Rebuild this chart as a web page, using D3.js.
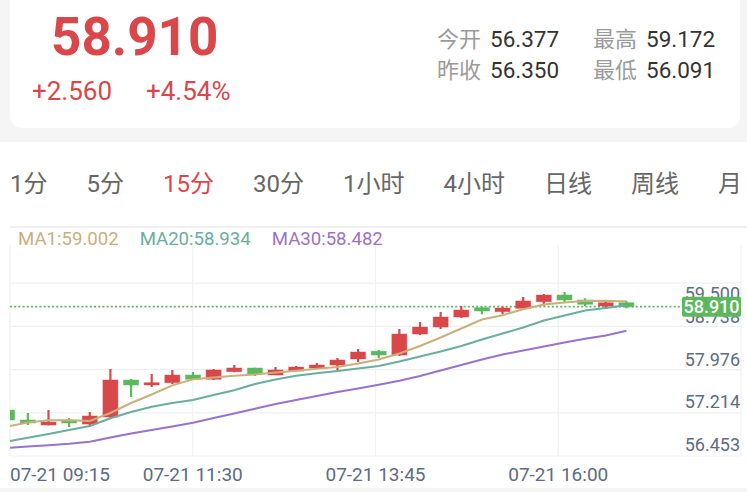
<!doctype html>
<html>
<head>
<meta charset="utf-8">
<script src="https://cdnjs.cloudflare.com/ajax/libs/d3/7.8.5/d3.min.js"></script>
<style>
  body { margin: 0; background: #f5f5f5; }
  svg { display: block; font-family: Roboto, "Noto Sans CJK SC", sans-serif; }
</style>
</head>
<body>
<svg width="747" height="492"></svg>
<script>
// quote header
const lastPrice = "58.910";
const changeTexts = ["+2.560", "+4.54%"];
const statLabels = [["今开", "最高"], ["昨收", "最低"]];
const statValues = [["56.377", "59.172"], ["56.350", "56.091"]];
const tabs = ["1分", "5分", "15分", "30分", "1小时", "4小时", "日线", "周线", "月线"];

// 15 min candles
const times = ["09:15","09:30","09:45","10:00","10:15","10:30","10:45","11:00","11:15","11:30","11:45",
  "12:00","12:15","12:30","12:45","13:00","13:15","13:30","13:45","14:00","14:15","14:30","14:45",
  "15:00","15:15","15:30","15:45","16:00","16:15","16:30","16:45"];
const opens = [57.065, 56.887, 56.798, 56.887, 56.815, 56.940, 57.601, 57.512, 57.553, 57.690, 57.614,
  57.749, 57.815, 57.690, 57.762, 57.815, 57.869, 57.976, 58.115, 58.047, 58.422, 58.547, 58.726,
  58.892, 58.821, 58.881, 58.999, 59.119, 59.030, 58.922, 58.981];
const highs = [57.080, 57.012, 57.065, 56.922, 57.030, 57.798, 57.619, 57.708, 57.780, 57.744, 57.798,
  57.869, 57.820, 57.833, 57.851, 57.905, 57.994, 58.155, 58.137, 58.512, 58.637, 58.815, 58.922,
  58.910, 58.910, 59.083, 59.137, 59.172, 59.060, 59.017, 59.017];
const lows = [56.870, 56.798, 56.790, 56.762, 56.780, 56.922, 57.297, 57.476, 57.530, 57.601, 57.601,
  57.740, 57.672, 57.690, 57.755, 57.798, 57.780, 57.922, 57.994, 58.030, 58.405, 58.512, 58.708,
  58.774, 58.774, 58.881, 58.928, 58.981, 58.922, 58.881, 58.881];
const closes = [56.887, 56.833, 56.851, 56.833, 56.958, 57.601, 57.512, 57.553, 57.690, 57.614, 57.780,
  57.815, 57.708, 57.780, 57.833, 57.869, 57.958, 58.101, 58.047, 58.422, 58.547, 58.726, 58.851,
  58.833, 58.887, 59.012, 59.119, 59.030, 58.953, 58.981, 58.910];

const ma1 = [56.771, 56.842, 56.881, 56.881, 56.869, 57.012, 57.190, 57.342, 57.506, 57.614, 57.646,
  57.678, 57.699, 57.735, 57.767, 57.801, 57.833, 57.896, 57.967, 58.074, 58.208, 58.360, 58.521,
  58.681, 58.758, 58.864, 58.948, 58.985, 59.012, 59.017, 59.002];
const ma20 = [56.503, 56.571, 56.637, 56.708, 56.780, 56.917, 57.030, 57.122, 57.190, 57.244, 57.333,
  57.417, 57.530, 57.610, 57.676, 57.721, 57.762, 57.806, 57.851, 57.931, 58.021, 58.110, 58.208,
  58.324, 58.431, 58.539, 58.664, 58.753, 58.842, 58.887, 58.934];
const ma30 = [56.390, 56.414, 56.435, 56.462, 56.499, 56.574, 56.646, 56.708, 56.771, 56.839, 56.922,
  57.003, 57.087, 57.172, 57.244, 57.315, 57.387, 57.449, 57.517, 57.589, 57.672, 57.771, 57.869,
  57.967, 58.056, 58.128, 58.199, 58.271, 58.337, 58.396, 58.482];

const maNames = ["MA1", "MA20", "MA30"];
const maColors = ["#c8b07a", "#69ae9e", "#9a72cc"];
const yTicks = ["59.500", "58.738", "57.976", "57.214", "56.453"];
const timeLabels = ["07-21 09:15", "07-21 11:30", "07-21 13:45", "07-21 16:00"];

const red = "#d9474b", green = "#5cb85c", axisColor = "#5d6b86";

const svg = d3.select("svg");

// backgrounds
svg.append("rect").attr("width", 747).attr("height", 492).attr("fill", "#f5f5f5");
svg.append("rect").attr("x", 10).attr("y", -20).attr("width", 730).attr("height", 148)
  .attr("rx", 12).attr("fill", "#fff");
svg.append("rect").attr("x", 0).attr("y", 142).attr("width", 747).attr("height", 346).attr("fill", "#fff");

// header
svg.append("text").attr("x", 51).attr("y", 55).attr("font-size", 53).attr("font-weight", 700)
  .attr("fill", red).text(lastPrice);
svg.append("text").attr("x", 32).attr("y", 100).attr("font-size", 26).attr("fill", red).text(changeTexts[0]);
svg.append("text").attr("x", 146).attr("y", 100).attr("font-size", 26).attr("fill", red).text(changeTexts[1]);

statLabels.forEach((row, r) => {
  row.forEach((lab, c) => {
    const bx = c == 0 ? 437 : 593, by = r == 0 ? 47 : 78;
    svg.append("text").attr("x", bx).attr("y", by).attr("font-size", 22).attr("fill", "#9a9a9a").text(lab);
    svg.append("text").attr("x", bx + 53).attr("y", by).attr("font-size", 22.5).attr("fill", "#333").text(statValues[r][c]);
  });
});

// period tabs (the strip scrolls, last one is cut at the edge)
svg.append("clipPath").attr("id", "tabclip").append("rect")
  .attr("x", 0).attr("y", 150).attr("width", 742).attr("height", 60);
const tabG = svg.append("g").attr("clip-path", "url(#tabclip)");
let tx = 10;
tabs.forEach((t, i) => {
  const el = tabG.append("text").attr("x", tx).attr("y", 192).attr("font-size", 24)
    .attr("fill", i == 2 ? "#e0454b" : "#666").text(t);
  tx += el.node().getComputedTextLength() + 39;
});

// scales
const x = d3.scalePoint().domain(times).range([7.2, 626.4]);
const y = d3.scaleLinear().domain([56.244, 60.351]).range([456, 226]);
const gx = d3.scaleLinear().domain([0, 4]).range([10, 741]);
const gy = d3.scaleLinear().domain([0, 5]).range([240, 456]);

// grid
svg.append("line").attr("x1", 10).attr("x2", 747).attr("y1", 227).attr("y2", 227)
  .attr("stroke", "#f0f0f0").attr("stroke-width", 2);
svg.selectAll(".hgrid").data(d3.range(1, 6)).enter().append("line")
  .attr("x1", gx(0)).attr("x2", gx(4)).attr("y1", d => gy(d)).attr("y2", d => gy(d))
  .attr("stroke", "#f1f1f1").attr("stroke-width", 1.2);
svg.selectAll(".vgrid").data(d3.range(0, 5)).enter().append("line")
  .attr("x1", d => gx(d)).attr("x2", d => gx(d)).attr("y1", 245).attr("y2", gy(5))
  .attr("stroke", "#f1f1f1").attr("stroke-width", 1.2);

// legend
let lx = 18;
maNames.forEach((n, i) => {
  const v = [ma1, ma20, ma30][i];
  const el = svg.append("text").attr("x", lx).attr("y", 245).attr("font-size", 18.6)
    .attr("fill", maColors[i]).text(n + ":" + v[v.length - 1].toFixed(3));
  lx += el.node().getComputedTextLength() + 21;
});

svg.append("clipPath").attr("id", "plot").append("rect")
  .attr("x", gx(0)).attr("y", 226).attr("width", gx(4) - gx(0)).attr("height", 230);
const plot = svg.append("g").attr("clip-path", "url(#plot)");

// last price line
const lastY = y(closes[closes.length - 1]);
plot.append("line").attr("x1", gx(0)).attr("x2", 684).attr("y1", lastY).attr("y2", lastY)
  .attr("stroke", green).attr("stroke-width", 1.8).attr("stroke-dasharray", "2,2.2");

// candles
const candles = plot.selectAll(".candle").data(times).enter().append("g");
candles.append("line")
  .attr("x1", d => x(d)).attr("x2", d => x(d))
  .attr("y1", (d, i) => y(highs[i])).attr("y2", (d, i) => y(lows[i]))
  .attr("stroke", (d, i) => closes[i] >= opens[i] ? red : green).attr("stroke-width", 2.2);
candles.append("rect")
  .attr("x", d => x(d) - 7.5).attr("width", 15)
  .attr("y", (d, i) => y(Math.max(opens[i], closes[i])))
  .attr("height", (d, i) => Math.max(2, Math.abs(y(opens[i]) - y(closes[i]))))
  .attr("fill", (d, i) => closes[i] >= opens[i] ? red : green)
  .attr("stroke", (d, i) => closes[i] >= opens[i] ? red : green)
  .attr("stroke-opacity", 0.45).attr("stroke-width", 1);

// moving averages
[ma1, ma20, ma30].forEach((vals, k) => {
  const line = d3.line().x((d, i) => x(times[i])).y(d => y(d));
  plot.append("path").datum(vals).attr("d", line).attr("fill", "none")
    .attr("stroke", maColors[k]).attr("stroke-width", 2);
});

// y axis labels
yTicks.forEach(t => {
  const ty = Math.max(y(+t), gy(1) + 10);
  svg.append("text").attr("x", 740).attr("y", ty).attr("text-anchor", "end")
    .attr("dominant-baseline", "central").attr("font-size", 18).attr("fill", axisColor).text(t);
});

// last price tag
svg.append("rect").attr("x", 682).attr("y", lastY - 10).attr("width", 59).attr("height", 20)
  .attr("rx", 2).attr("fill", green);
svg.append("text").attr("x", 711.5).attr("y", lastY).attr("text-anchor", "middle")
  .attr("dominant-baseline", "central").attr("font-size", 18).attr("font-weight", 500)
  .attr("fill", "#fff").text(lastPrice);

// time axis
timeLabels.forEach((t, k) => {
  svg.append("text").attr("x", gx(k)).attr("y", 481).attr("text-anchor", k == 0 ? "start" : "middle")
    .attr("font-size", 19).attr("fill", axisColor).text(t);
});
</script>
</body>
</html>
